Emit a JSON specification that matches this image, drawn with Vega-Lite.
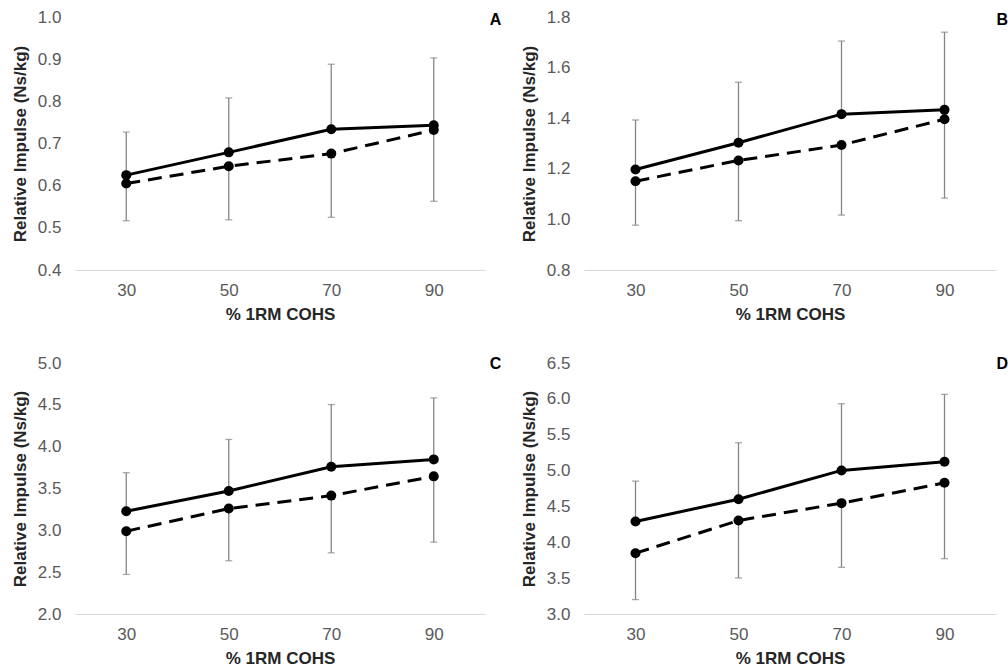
{
  "$schema": "https://vega.github.io/schema/vega-lite/v6.json",
  "padding": {"left": 11, "top": 8, "right": 0, "bottom": 0},
  "background": "white",
  "datasets": {
    "d": [
      {"panel": "A", "pct": 30, "series": "solid", "mean": 0.625, "bar": 0.727},
      {"panel": "A", "pct": 50, "series": "solid", "mean": 0.679, "bar": 0.808},
      {"panel": "A", "pct": 70, "series": "solid", "mean": 0.734, "bar": 0.888},
      {"panel": "A", "pct": 90, "series": "solid", "mean": 0.743, "bar": 0.903},
      {"panel": "A", "pct": 30, "series": "dashed", "mean": 0.605, "bar": 0.517},
      {"panel": "A", "pct": 50, "series": "dashed", "mean": 0.646, "bar": 0.519},
      {"panel": "A", "pct": 70, "series": "dashed", "mean": 0.676, "bar": 0.525},
      {"panel": "A", "pct": 90, "series": "dashed", "mean": 0.732, "bar": 0.563},
      {"panel": "B", "pct": 30, "series": "solid", "mean": 1.197, "bar": 1.393},
      {"panel": "B", "pct": 50, "series": "solid", "mean": 1.303, "bar": 1.542},
      {"panel": "B", "pct": 70, "series": "solid", "mean": 1.416, "bar": 1.705},
      {"panel": "B", "pct": 90, "series": "solid", "mean": 1.433, "bar": 1.74},
      {"panel": "B", "pct": 30, "series": "dashed", "mean": 1.151, "bar": 0.977},
      {"panel": "B", "pct": 50, "series": "dashed", "mean": 1.233, "bar": 0.995},
      {"panel": "B", "pct": 70, "series": "dashed", "mean": 1.294, "bar": 1.017},
      {"panel": "B", "pct": 90, "series": "dashed", "mean": 1.396, "bar": 1.084},
      {"panel": "C", "pct": 30, "series": "solid", "mean": 3.228, "bar": 3.689},
      {"panel": "C", "pct": 50, "series": "solid", "mean": 3.47, "bar": 4.086},
      {"panel": "C", "pct": 70, "series": "solid", "mean": 3.76, "bar": 4.503},
      {"panel": "C", "pct": 90, "series": "solid", "mean": 3.848, "bar": 4.583},
      {"panel": "C", "pct": 30, "series": "dashed", "mean": 2.99, "bar": 2.473},
      {"panel": "C", "pct": 50, "series": "dashed", "mean": 3.26, "bar": 2.636},
      {"panel": "C", "pct": 70, "series": "dashed", "mean": 3.415, "bar": 2.731},
      {"panel": "C", "pct": 90, "series": "dashed", "mean": 3.645, "bar": 2.859},
      {"panel": "D", "pct": 30, "series": "solid", "mean": 4.29, "bar": 4.853},
      {"panel": "D", "pct": 50, "series": "solid", "mean": 4.601, "bar": 5.388},
      {"panel": "D", "pct": 70, "series": "solid", "mean": 5.002, "bar": 5.932},
      {"panel": "D", "pct": 90, "series": "solid", "mean": 5.123, "bar": 6.063},
      {"panel": "D", "pct": 30, "series": "dashed", "mean": 3.848, "bar": 3.201},
      {"panel": "D", "pct": 50, "series": "dashed", "mean": 4.304, "bar": 3.503},
      {"panel": "D", "pct": 70, "series": "dashed", "mean": 4.546, "bar": 3.651},
      {"panel": "D", "pct": 90, "series": "dashed", "mean": 4.829, "bar": 3.772}
    ]
  },
  "data": {"name": "d"},
  "spacing": 32,
  "vconcat": [
    {
      "spacing": 18,
      "hconcat": [
        {
          "width": 410, "height": 253,
          "transform": [{"filter": "datum.panel === 'A'"}],
          "encoding": {
            "x": {"field": "pct", "type": "ordinal", "scale": {"type": "point", "padding": 0.5}, "title": "% 1RM COHS"},
            "y": {"field": "mean", "type": "quantitative", "scale": {"domain": [0.4, 1.0], "nice": false, "zero": false}, "axis": {"values": [0.4, 0.5, 0.6, 0.7, 0.8, 0.9, 1.0], "format": ".1f"}, "title": "Relative Impulse (Ns/kg)"}
          },
          "layer": [
            {"mark": {"type": "rule", "color": "#858585", "strokeWidth": 1.3}, "encoding": {"y2": {"field": "bar"}}},
            {"mark": {"type": "tick", "color": "#858585", "size": 7, "thickness": 1.3}, "encoding": {"y": {"field": "bar", "type": "quantitative"}}},
            {"transform": [{"filter": "datum.series === 'solid'"}], "mark": {"type": "line", "color": "black", "strokeWidth": 3}},
            {"transform": [{"filter": "datum.series === 'dashed'"}], "mark": {"type": "line", "color": "black", "strokeWidth": 3, "strokeDash": [14, 8]}},
            {"mark": {"type": "point", "filled": true, "color": "black", "size": 100, "opacity": 1}},
            {"transform": [{"filter": "datum.series === 'solid' && datum.pct === 90"}], "mark": {"type": "text", "text": "A", "fontWeight": "bold", "fontSize": 16, "font": "Liberation Sans", "align": "left", "baseline": "middle", "dx": 56, "dy": 3, "color": "black"}, "encoding": {"y": {"datum": 1.0}}}
          ]
        },
        {
          "width": 412, "height": 253,
          "transform": [{"filter": "datum.panel === 'B'"}],
          "encoding": {
            "x": {"field": "pct", "type": "ordinal", "scale": {"type": "point", "padding": 0.5}, "title": "% 1RM COHS"},
            "y": {"field": "mean", "type": "quantitative", "scale": {"domain": [0.8, 1.8], "nice": false, "zero": false}, "axis": {"values": [0.8, 1.0, 1.2, 1.4, 1.6, 1.8], "format": ".1f"}, "title": "Relative Impulse (Ns/kg)"}
          },
          "layer": [
            {"mark": {"type": "rule", "color": "#858585", "strokeWidth": 1.3}, "encoding": {"y2": {"field": "bar"}}},
            {"mark": {"type": "tick", "color": "#858585", "size": 7, "thickness": 1.3}, "encoding": {"y": {"field": "bar", "type": "quantitative"}}},
            {"transform": [{"filter": "datum.series === 'solid'"}], "mark": {"type": "line", "color": "black", "strokeWidth": 3}},
            {"transform": [{"filter": "datum.series === 'dashed'"}], "mark": {"type": "line", "color": "black", "strokeWidth": 3, "strokeDash": [14, 8]}},
            {"mark": {"type": "point", "filled": true, "color": "black", "size": 100, "opacity": 1}},
            {"transform": [{"filter": "datum.series === 'solid' && datum.pct === 90"}], "mark": {"type": "text", "text": "B", "fontWeight": "bold", "fontSize": 16, "font": "Liberation Sans", "align": "left", "baseline": "middle", "dx": 52, "dy": 3, "color": "black"}, "encoding": {"y": {"datum": 1.8}}}
          ]
        }
      ]
    },
    {
      "spacing": 18,
      "hconcat": [
        {
          "width": 410, "height": 251,
          "transform": [{"filter": "datum.panel === 'C'"}],
          "encoding": {
            "x": {"field": "pct", "type": "ordinal", "scale": {"type": "point", "padding": 0.5}, "title": "% 1RM COHS"},
            "y": {"field": "mean", "type": "quantitative", "scale": {"domain": [2.0, 5.0], "nice": false, "zero": false}, "axis": {"values": [2.0, 2.5, 3.0, 3.5, 4.0, 4.5, 5.0], "format": ".1f"}, "title": "Relative Impulse (Ns/kg)"}
          },
          "layer": [
            {"mark": {"type": "rule", "color": "#858585", "strokeWidth": 1.3}, "encoding": {"y2": {"field": "bar"}}},
            {"mark": {"type": "tick", "color": "#858585", "size": 7, "thickness": 1.3}, "encoding": {"y": {"field": "bar", "type": "quantitative"}}},
            {"transform": [{"filter": "datum.series === 'solid'"}], "mark": {"type": "line", "color": "black", "strokeWidth": 3}},
            {"transform": [{"filter": "datum.series === 'dashed'"}], "mark": {"type": "line", "color": "black", "strokeWidth": 3, "strokeDash": [14, 8]}},
            {"mark": {"type": "point", "filled": true, "color": "black", "size": 100, "opacity": 1}},
            {"transform": [{"filter": "datum.series === 'solid' && datum.pct === 90"}], "mark": {"type": "text", "text": "C", "fontWeight": "bold", "fontSize": 16, "font": "Liberation Sans", "align": "left", "baseline": "middle", "dx": 56, "dy": 1, "color": "black"}, "encoding": {"y": {"datum": 5.0}}}
          ]
        },
        {
          "width": 412, "height": 251,
          "transform": [{"filter": "datum.panel === 'D'"}],
          "encoding": {
            "x": {"field": "pct", "type": "ordinal", "scale": {"type": "point", "padding": 0.5}, "title": "% 1RM COHS"},
            "y": {"field": "mean", "type": "quantitative", "scale": {"domain": [3.0, 6.5], "nice": false, "zero": false}, "axis": {"values": [3.0, 3.5, 4.0, 4.5, 5.0, 5.5, 6.0, 6.5], "format": ".1f"}, "title": "Relative Impulse (Ns/kg)"}
          },
          "layer": [
            {"mark": {"type": "rule", "color": "#858585", "strokeWidth": 1.3}, "encoding": {"y2": {"field": "bar"}}},
            {"mark": {"type": "tick", "color": "#858585", "size": 7, "thickness": 1.3}, "encoding": {"y": {"field": "bar", "type": "quantitative"}}},
            {"transform": [{"filter": "datum.series === 'solid'"}], "mark": {"type": "line", "color": "black", "strokeWidth": 3}},
            {"transform": [{"filter": "datum.series === 'dashed'"}], "mark": {"type": "line", "color": "black", "strokeWidth": 3, "strokeDash": [14, 8]}},
            {"mark": {"type": "point", "filled": true, "color": "black", "size": 100, "opacity": 1}},
            {"transform": [{"filter": "datum.series === 'solid' && datum.pct === 90"}], "mark": {"type": "text", "text": "D", "fontWeight": "bold", "fontSize": 16, "font": "Liberation Sans", "align": "left", "baseline": "middle", "dx": 52, "dy": 1, "color": "black"}, "encoding": {"y": {"datum": 6.5}}}
          ]
        }
      ]
    }
  ],
  "config": {
    "view": {"stroke": null},
    "axis": {
      "labelFont": "Liberation Sans", "labelFontSize": 17, "labelColor": "#595959",
      "titleFont": "Liberation Sans", "titleFontSize": 17, "titleFontWeight": "bold", "titleColor": "#262626",
      "grid": false, "ticks": false
    },
    "axisY": {"domain": false, "labelPadding": 14, "titlePadding": 8},
    "axisX": {"domainColor": "#d9d9d9", "domainWidth": 1, "labelAngle": 0, "labelPadding": 12, "titlePadding": 8}
  }
}
